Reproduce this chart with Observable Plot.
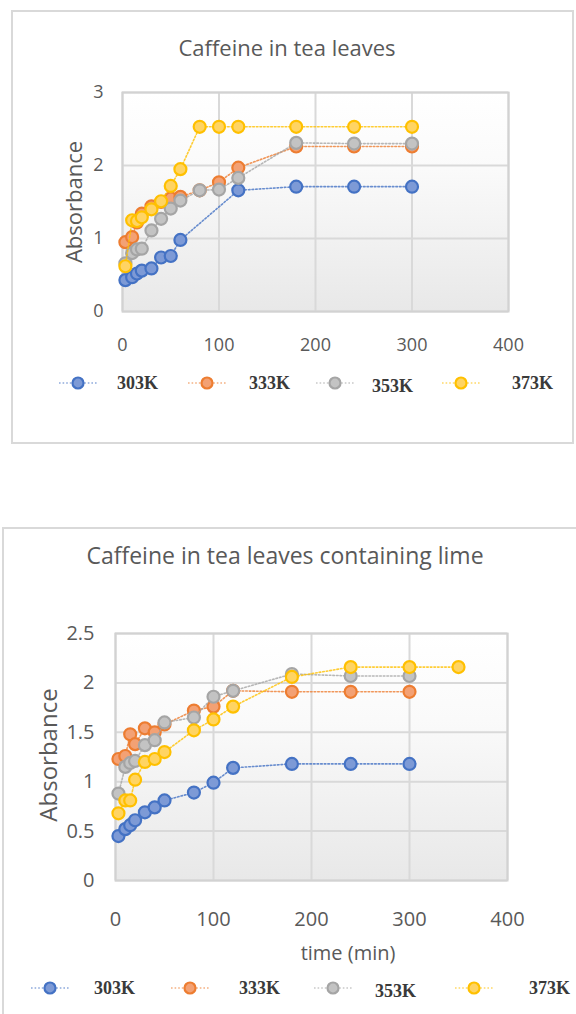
<!DOCTYPE html>
<html>
<head>
<meta charset="utf-8">
<script src="https://cdn.jsdelivr.net/npm/d3@7"></script>
<script src="https://cdn.jsdelivr.net/npm/@observablehq/plot@0.6"></script>
<style>
  body { margin: 0; width: 576px; height: 1014px; overflow: hidden; position: relative; background: #fff; font-family: "Open Sans", sans-serif; }
  .box { position: absolute; border: 2px solid #d9d9d9; box-sizing: border-box; }
  .abs { position: absolute; white-space: nowrap; }
  .title { color: #595959; transform: translate(-50%, -50%); }
  .ylab { color: #595959; transform: translate(-50%, -50%) rotate(-90deg); }
  .legtext { font-family: "Liberation Serif", serif; font-weight: bold; font-size: 18px; color: #3a3a3a; transform: translateY(-50%); }
  .plot { position: absolute; left: 0; }
</style>
</head>
<body>
<script>
// Series (temperatures) and their Excel-style colours
const seriesNames = ["303K", "333K", "353K", "373K"];
const seriesStroke = ["#4472C4", "#ED7D31", "#A5A5A5", "#FFC000"];
const seriesFill = ["#7d9ad6", "#f3a174", "#c3c3c3", "#ffd463"];

// Caffeine in tea leaves: time (min) and absorbance per temperature
const leafTime303 = [3, 10, 15, 20, 30, 40, 50, 60, 120, 180, 240, 300];
const leafAbs303  = [0.43, 0.47, 0.52, 0.56, 0.59, 0.74, 0.76, 0.98, 1.66, 1.71, 1.71, 1.71];
const leafTime333 = [3, 10, 15, 20, 30, 40, 50, 60, 80, 100, 120, 180, 240, 300];
const leafAbs333  = [0.95, 1.02, 1.22, 1.34, 1.44, 1.50, 1.55, 1.57, 1.66, 1.77, 1.97, 2.26, 2.26, 2.26];
const leafTime353 = [3, 10, 15, 20, 30, 40, 50, 60, 80, 100, 120, 180, 240, 300];
const leafAbs353  = [0.66, 0.80, 0.85, 0.86, 1.11, 1.27, 1.41, 1.52, 1.66, 1.67, 1.83, 2.31, 2.30, 2.30];
const leafTime373 = [3, 10, 15, 20, 30, 40, 50, 60, 80, 100, 120, 180, 240, 300];
const leafAbs373  = [0.62, 1.25, 1.24, 1.29, 1.40, 1.51, 1.72, 1.95, 2.53, 2.53, 2.53, 2.53, 2.53, 2.53];

// Caffeine in tea leaves containing lime
const limeTime303 = [3, 10, 15, 20, 30, 40, 50, 80, 100, 120, 180, 240, 300];
const limeAbs303  = [0.45, 0.52, 0.56, 0.61, 0.69, 0.74, 0.81, 0.89, 0.99, 1.14, 1.18, 1.18, 1.18];
const limeTime333 = [3, 10, 15, 20, 30, 40, 50, 80, 100, 120, 180, 240, 300];
const limeAbs333  = [1.23, 1.26, 1.48, 1.38, 1.54, 1.50, 1.58, 1.72, 1.76, 1.92, 1.91, 1.91, 1.91];
const limeTime353 = [3, 10, 15, 20, 30, 40, 50, 80, 100, 120, 180, 240, 300];
const limeAbs353  = [0.88, 1.15, 1.19, 1.21, 1.37, 1.42, 1.60, 1.65, 1.86, 1.92, 2.09, 2.07, 2.07];
const limeTime373 = [3, 10, 15, 20, 30, 40, 50, 80, 100, 120, 180, 240, 300, 350];
const limeAbs373  = [0.68, 0.81, 0.81, 1.02, 1.20, 1.23, 1.30, 1.52, 1.63, 1.76, 2.06, 2.16, 2.16, 2.16];

// Axis ticks
const xTicks = [0, 100, 200, 300, 400];
const leafYTicks = [0, 1, 2, 3];
const limeYTicks = [0, 0.5, 1, 1.5, 2, 2.5];

function toRows(times, values) {
  return times.map((t, i) => ({t, a: values[i]}));
}
const leafSeries = [
  toRows(leafTime303, leafAbs303), toRows(leafTime333, leafAbs333),
  toRows(leafTime353, leafAbs353), toRows(leafTime373, leafAbs373)
];
const limeSeries = [
  toRows(limeTime303, limeAbs303), toRows(limeTime333, limeAbs333),
  toRows(limeTime353, limeAbs353), toRows(limeTime373, limeAbs373)
];

function el(tag, cls, style, text) {
  const e = document.createElement(tag);
  if (cls) e.className = cls;
  Object.assign(e.style, style);
  if (text != null) e.textContent = text;
  document.body.appendChild(e);
  return e;
}

const DASH = "1.6 2";

function chart(opts) {
  const marks = [
    Plot.frame({fill: `url(#${opts.id}-bg)`}),
    Plot.gridX(xTicks, {stroke: "#d9d9d9", strokeOpacity: 1, strokeWidth: 2}),
    Plot.gridY(opts.yTicks, {stroke: "#d9d9d9", strokeOpacity: 1, strokeWidth: 2}),
    Plot.frame({stroke: "#d2d2d2", strokeWidth: 2}),
    Plot.axisX(xTicks, {tickSize: 0, tickPadding: opts.xPad, fontSize: opts.tickFont, fill: "#595959", label: null, tickFormat: d => String(d)}),
    Plot.axisY(opts.yTicks, {tickSize: 0, tickPadding: opts.yPad, fontSize: opts.tickFont, fill: "#595959", label: null, tickFormat: d => String(d)})
  ];
  opts.series.forEach((rows, i) => {
    marks.push(Plot.line(rows, {x: "t", y: "a", stroke: seriesStroke[i], strokeWidth: 1.6, strokeDasharray: DASH, strokeOpacity: 0.8}));
    marks.push(Plot.dot(rows, {x: "t", y: "a", r: 6, fill: seriesFill[i], stroke: seriesStroke[i], strokeWidth: 2.2}));
  });
  const svg = Plot.plot({
    width: 576, height: opts.height,
    marginTop: opts.mt, marginRight: opts.mr, marginBottom: opts.mb, marginLeft: opts.ml,
    x: {domain: [0, 400]},
    y: {domain: opts.yDomain},
    style: {fontFamily: "Open Sans, sans-serif", background: "transparent", overflow: "visible"},
    marks
  });
  // vertical white-to-grey fill for the plotting area
  const ns = "http://www.w3.org/2000/svg";
  const defs = document.createElementNS(ns, "defs");
  const grad = document.createElementNS(ns, "linearGradient");
  grad.setAttribute("id", `${opts.id}-bg`);
  grad.setAttribute("x1", "0"); grad.setAttribute("y1", "0");
  grad.setAttribute("x2", "0"); grad.setAttribute("y2", "1");
  [["0", "#ffffff"], ["0.35", "#fafafa"], ["1", "#e8e8e8"]].forEach(([o, c]) => {
    const s = document.createElementNS(ns, "stop");
    s.setAttribute("offset", o); s.setAttribute("stop-color", c);
    grad.appendChild(s);
  });
  defs.appendChild(grad);
  svg.insertBefore(defs, svg.firstChild);
  svg.classList.add("plot");
  svg.style.top = opts.top + "px";
  document.body.appendChild(svg);
}

function legend(markerX, textX, y, shift) {
  seriesNames.forEach((name, i) => {
    const s = document.createElementNS("http://www.w3.org/2000/svg", "svg");
    s.setAttribute("width", 44); s.setAttribute("height", 16);
    s.style.position = "absolute";
    s.style.left = (markerX[i] - 22) + "px";
    s.style.top = (y - 8) + "px";
    s.innerHTML = `<line x1="3" x2="41" y1="8" y2="8" stroke="${seriesStroke[i]}" stroke-opacity="0.6" stroke-width="1.6" stroke-dasharray="${DASH}"/>` +
      `<circle cx="22" cy="8" r="5.5" fill="${seriesFill[i]}" stroke="${seriesStroke[i]}" stroke-width="2.2"/>`;
    document.body.appendChild(s);
    el("div", "abs legtext", {left: textX[i] + "px", top: (y + (i === 2 ? shift : 0)) + "px"}, name);
  });
}

// ---- Chart 1: plain tea leaves ----
el("div", "box", {left: "11px", top: "10px", width: "563px", height: "434px"});
chart({id: "leaf", series: leafSeries, yDomain: [0, 3], yTicks: leafYTicks,
  top: 0, height: 370, mt: 92, mr: 68, mb: 59, ml: 122, xPad: 27, yPad: 19, tickFont: 18});
el("div", "abs title", {left: "287px", top: "47px", fontSize: "22px"}, "Caffeine in tea leaves");
el("div", "abs ylab", {left: "73px", top: "202px", fontSize: "22px"}, "Absorbance");
legend([78, 207, 335, 461], [117, 249, 372, 512], 383, 3);

// ---- Chart 2: tea leaves containing lime ----
el("div", "box", {left: "2px", top: "527px", width: "600px", height: "600px"});
chart({id: "lime", series: limeSeries, yDomain: [0, 2.5], yTicks: limeYTicks,
  top: 520, height: 400, mt: 113, mr: 69, mb: 40, ml: 115, xPad: 31, yPad: 21, tickFont: 20});
el("div", "abs title", {left: "285px", top: "555px", fontSize: "23px"}, "Caffeine in tea leaves containing lime");
el("div", "abs ylab", {left: "47px", top: "755px", fontSize: "24px"}, "Absorbance");
el("div", "abs title", {left: "348px", top: "952px", fontSize: "20px"}, "time (min)");
legend([50, 190, 333, 474], [94, 239, 375, 529], 988, 3);
</script>
</body>
</html>
